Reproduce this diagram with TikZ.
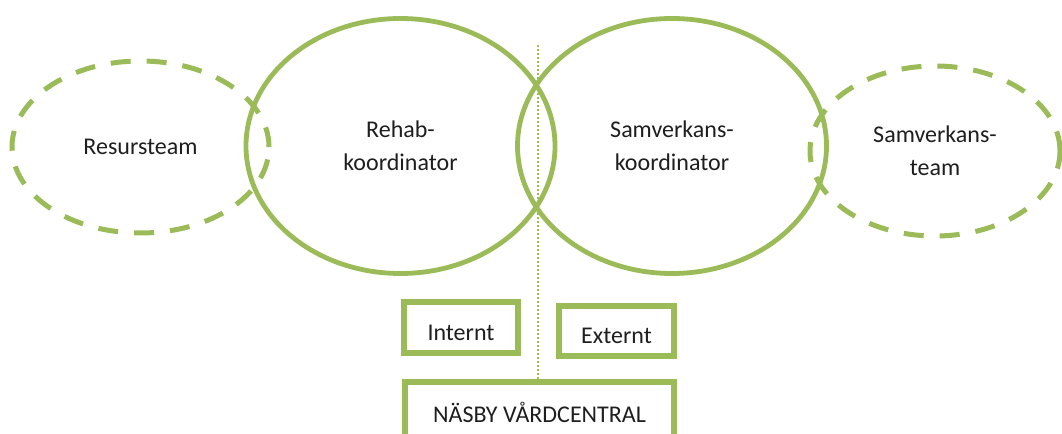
\documentclass[tikz,border=0pt]{standalone}
\usepackage{fontspec}
\setmainfont{Carlito}
\usepackage{xcolor}
\usetikzlibrary{shapes.geometric}
\definecolor{olivegreen}{RGB}{155,187,89}
\definecolor{inkgray}{RGB}{30,30,30}

\tikzset{
  teamring/.style={draw=olivegreen, line width=3.75pt, ellipse, inner sep=0pt, dash pattern=on 15pt off 12pt, align=center},
  coordring/.style={draw=olivegreen, line width=3.6pt, ellipse, inner sep=0pt, align=center},
  unitbox/.style={draw=olivegreen, line width=4pt, rectangle, inner sep=0pt, text height=18.9pt, text depth=0pt},
}

\begin{document}
\begin{tikzpicture}[x=0.75pt,y=0.75pt,yscale=-1,xscale=1, every node/.style={font=\fontsize{18}{25}\selectfont, text=inkgray}]

\useasboundingbox (0,0) rectangle (1062,434);

\node (resurs) at (140.5,147) [teamring, minimum width=192.75pt, minimum height=129pt] {Resursteam};
\node (samvteam) at (935,151) [teamring, minimum width=187.5pt, minimum height=127.5pt] {Samverkans-\\team};
\node (rehab) at (400.5,146) [coordring, minimum width=231.75pt, minimum height=191.25pt] {Rehab-\\koordinator};
\node (samv) at (672,146) [coordring, minimum width=231.75pt, minimum height=191.25pt] {Samverkans-\\koordinator};

\node (internt) at (461,327.5) [unitbox, minimum width=85.5pt, minimum height=38.25pt] {Internt};
\node (externt) at (616.5,331) [unitbox, minimum width=86.25pt, minimum height=37.5pt] {Externt};
\node (nasby) at (539.5,410) [unitbox, minimum width=201.75pt, minimum height=42pt] {NÄSBY VÅRDCENTRAL};

\coordinate (divtop) at (538,45);
\draw [olivegreen, line width=1.2pt, dash pattern=on 1.5pt off 1.5pt] (divtop) -- (divtop |- nasby.north);

\end{tikzpicture}
\end{document}
